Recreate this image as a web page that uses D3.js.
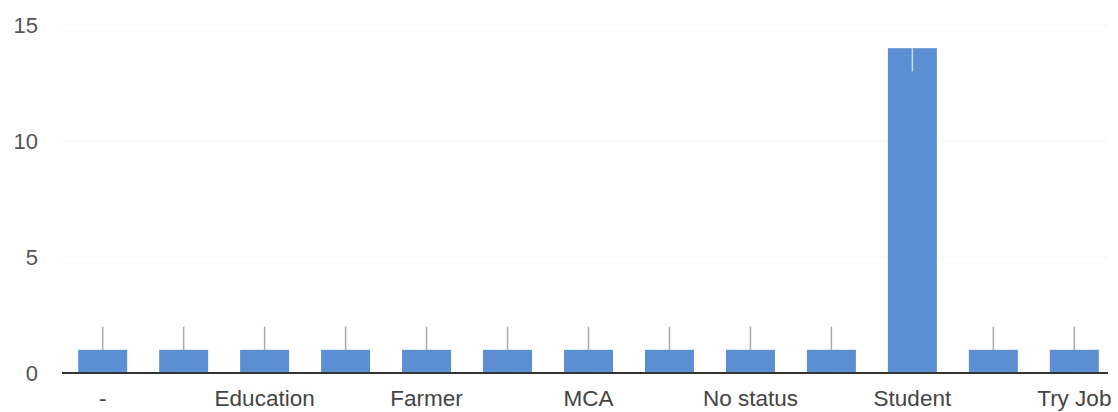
<!DOCTYPE html>
<html><head><meta charset="utf-8">
<script src="https://cdn.jsdelivr.net/npm/d3@7"></script>
<style>html,body{margin:0;padding:0;background:#fff;}svg{display:block;font-family:"Liberation Sans",Arial,sans-serif;}</style>
</head><body>
<svg id="c" width="1118" height="412"></svg>
<script>
const categories = ["-", "Business", "Education", "Engineer", "Farmer", "Housewife", "MCA", "MBA", "No status", "Private Job", "Student", "Teacher", "Try Job"];
const values = [1, 1, 1, 1, 1, 1, 1, 1, 1, 1, 14, 1, 1];
const errLow = [1, 1, 1, 1, 1, 1, 1, 1, 1, 1, 13, 1, 1];
const errHigh = [2, 2, 2, 2, 2, 2, 2, 2, 2, 2, 14, 2, 2];
const yTicks = [0, 5, 10, 15];

const svg = d3.select("#c");
const x = d3.scaleBand().domain(categories).range([62, 1115]).paddingInner(0.395).paddingOuter(0.2);
const y = d3.scaleLinear().domain([0, 15]).range([373, 25]);

// faint gridlines
svg.append("g").selectAll("line").data(yTicks.filter(d => d > 0)).join("line")
  .attr("x1", 62).attr("x2", 1108).attr("y1", d => y(d)).attr("y2", d => y(d))
  .attr("stroke", "#f5f5f5").attr("stroke-width", 1);

// y axis labels
const ya = svg.append("g").attr("transform", "translate(40,0)")
  .call(d3.axisLeft(y).tickValues(yTicks).tickSize(0).tickPadding(2));
ya.select(".domain").remove();
ya.selectAll("text").attr("font-size", 22).attr("fill", "#555").attr("font-family", "Liberation Sans, Arial, sans-serif");

// error lines behind small bars
svg.append("g").selectAll("line").data(categories.map((c, i) => ({c, i}))).join("line")
  .filter(d => values[d.i] < 10)
  .attr("x1", d => x(d.c) + x.bandwidth() / 2).attr("x2", d => x(d.c) + x.bandwidth() / 2)
  .attr("y1", d => y(errLow[d.i])).attr("y2", d => y(errHigh[d.i]))
  .attr("stroke", "#aaa").attr("stroke-width", 1.5);

// bars
svg.append("g").selectAll("rect").data(categories.map((c, i) => ({c, v: values[i]}))).join("rect")
  .attr("x", d => x(d.c)).attr("width", x.bandwidth())
  .attr("y", d => y(d.v)).attr("height", d => y(0) - y(d.v))
  .attr("fill", "#5b8ed3");

// error line inside tall bar
svg.append("g").selectAll("line").data(categories.map((c, i) => ({c, i}))).join("line")
  .filter(d => values[d.i] >= 10)
  .attr("x1", d => x(d.c) + x.bandwidth() / 2).attr("x2", d => x(d.c) + x.bandwidth() / 2)
  .attr("y1", d => y(errLow[d.i])).attr("y2", d => y(errHigh[d.i]))
  .attr("stroke", "#c9dcf3").attr("stroke-width", 1.5);

// x axis
const xa = svg.append("g").attr("transform", "translate(0,373)")
  .call(d3.axisBottom(x).tickSize(0).tickPadding(17).tickFormat((d, i) => i % 2 === 0 ? d : ""));
xa.select(".domain").remove();
xa.selectAll("text").attr("font-size", 22.5).attr("fill", "#444").attr("font-family", "Liberation Sans, Arial, sans-serif");
svg.append("line").attr("x1", 62).attr("x2", 1108).attr("y1", y(0)).attr("y2", y(0))
  .attr("stroke", "#333").attr("stroke-width", 2);
</script>
</body></html>
